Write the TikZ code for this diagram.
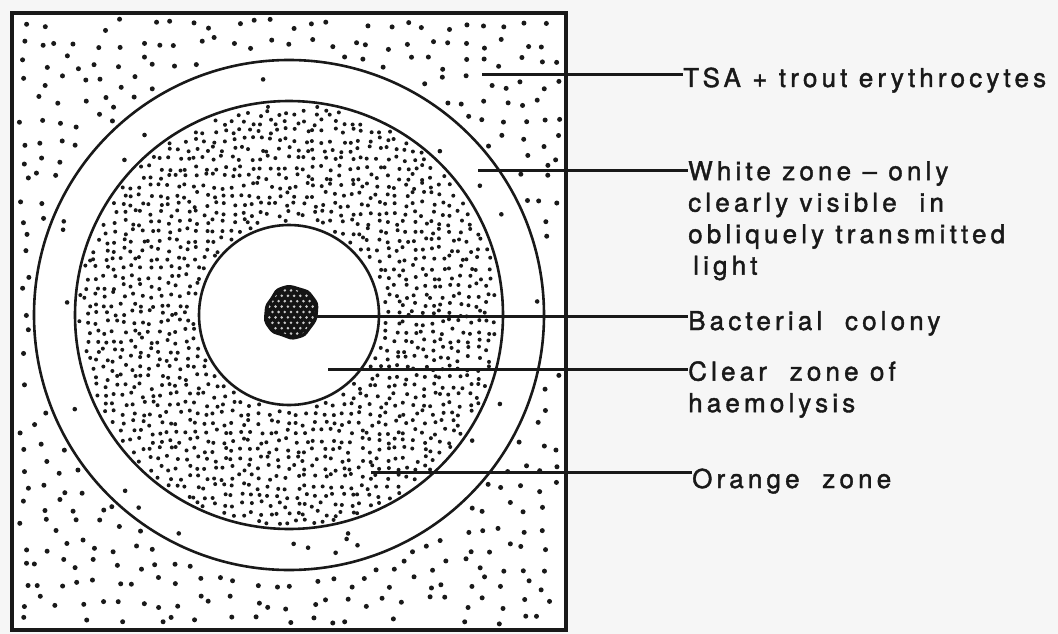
\documentclass[tikz,border=0pt]{standalone}
\usepackage{fontspec}
\newfontfamily\labfont[LetterSpace=16,FakeBold=1.5]{TeX Gyre Heros}
\tikzset{
  lab/.style={inner sep=0pt, font=\labfont\fontsize{26}{31.5}\selectfont, text=black!90, align=left},
  leader/.style={line width=3pt, black!90},
  ring/.style={line width=2.6pt, black!90},
  sparse/.style={fill=black!90},
}
\begin{document}
\begin{tikzpicture}[x=1pt,y=-1pt]
\useasboundingbox (0,0) rectangle (1058,634);
\fill[gray!7] (0,0) rectangle (1058,634);
\fill[white] (12,13) rectangle (566,630);
\coordinate (c) at (289,315);
% outer sparse dots
\pgfmathsetseed{11}
\foreach \i in {0,...,28}{\foreach \j in {0,...,31}{
  \pgfmathsetmacro\px{22+\i*19.3+7*rand}
  \pgfmathsetmacro\py{24+\j*19.3+7*rand}
  \pgfmathsetmacro\dd{veclen(\px-289,\py-315)}
  \ifdim\dd pt>261pt
    \ifdim\px pt<560pt \ifdim\py pt<624pt \ifdim\px pt>18pt \ifdim\py pt>19pt
      \fill[sparse] (\px,\py) circle[radius=2.5];
    \fi\fi\fi\fi
  \fi
}}
% white zone few dots
\foreach \k in {1,...,22}{
  \pgfmathsetmacro\ang{360*rnd}
  \pgfmathsetmacro\rr{222+27*rnd}
  \fill[sparse,shift={(289,315)}] (\ang:\rr) circle[radius=2.3];
}
% orange zone dense dots
\foreach \i in {0,...,47}{\foreach \j in {0,...,47}{
  \pgfmathsetmacro\px{78+\i*9.1+3.2*rand}
  \pgfmathsetmacro\py{104+\j*9.1+3.2*rand}
  \pgfmathsetmacro\dd{veclen(\px-289,\py-315)}
  \ifdim\dd pt>94pt \ifdim\dd pt<210pt
    \fill[sparse] (\px,\py) circle[radius=2];
  \fi\fi
}}
% clear zone white
\fill[white] (c) circle[radius=90];
% rings and square
\draw[ring] (c) circle[radius=255];
\draw[ring] (c) circle[radius=214];
\draw[ring] (c) circle[radius=90];
\draw[line width=3.6pt, black!90] (12,13) rectangle (566,630);
% colony
\begin{scope}[shift={(291,312)}]
  \fill[black!92] plot[smooth cycle, tension=1] coordinates {(0:27) (40:26) (75:27.5) (110:26) (145:28) (180:26.5) (215:25) (250:27) (290:26) (325:27.5)};
  \clip plot[smooth cycle, tension=1] coordinates {(0:23.5) (40:22.5) (75:24) (110:22.5) (145:24.5) (180:23) (215:21.5) (250:23.5) (290:22.5) (325:24)};
  \foreach \a in {-5,...,5}{\foreach \b in {-5,...,5}{
    \fill[white!80!black] (\a*6.2+\b*3.1,\b*5.4) circle[radius=1.4];
  }}
\end{scope}
% labels
\node[lab, anchor=base west] (ltsa) at (683,87) {TSA + trout erythrocytes};
\node[lab, anchor=north west] (lwhite) at (688,161) {White zone – only\\clearly visible \ in\\obliquely transmitted\\\hspace*{5pt}light};
\node[lab, anchor=base west] (lcol) at (688,330) {Bacterial \ colony};
\node[lab, anchor=north west] (lclear) at (688,361) {Clear \ zone of\\haemolysis};
\node[lab, anchor=base west] (lor) at (692,488) {Orange \ zone};
% leaders
\coordinate (ptsa) at (482,75);
\coordinate (pwhite) at (478,170);
\coordinate (pcol) at (316,316);
\coordinate (pclear) at (328,369);
\coordinate (por) at (371,472);
\draw[leader] (ptsa) -- (ptsa -| ltsa.west);
\draw[leader] (pwhite) -- (pwhite -| lwhite.west);
\draw[leader] (pcol) -- (pcol -| lcol.west);
\draw[leader] (pclear) -- (pclear -| lclear.west);
\draw[leader] (por) -- (por -| lor.west);
\end{tikzpicture}
\end{document}
